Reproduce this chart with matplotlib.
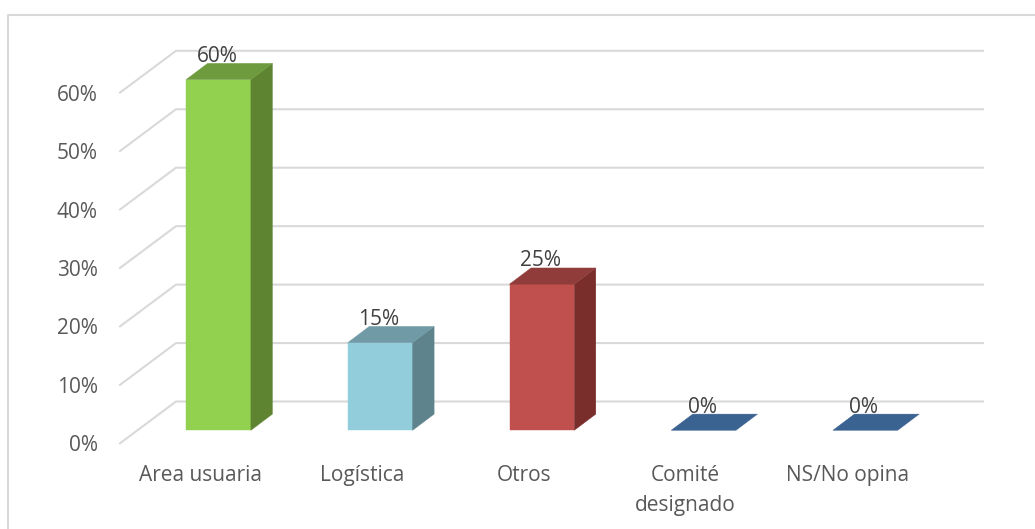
import matplotlib
matplotlib.use("Agg")
from matplotlib import pyplot as plt
from matplotlib.lines import Line2D
from matplotlib.patches import Polygon

categories = ["Area usuaria", "Logística", "Otros", "Comité\ndesignado", "NS/No opina"]
values = [60, 15, 25, 0, 0]
ticks = [0, 10, 20, 30, 40, 50, 60]
front_colors = ["#92D050", "#92CDDC", "#C0504D", "#3B6391", "#3B6391"]
top_colors = ["#6E9B3D", "#6F9AA6", "#903C3A", "#3B6391", "#3B6391"]
side_colors = ["#5E8331", "#5F838D", "#7A2E2C", "#3B6391", "#3B6391"]

W, H = 1035, 529
plt.rcParams["font.family"] = ["Open Sans", "DejaVu Sans"]

#scale of the axes in pixels, one category is about 162 px and 1% is 5.845 px
px_x = 161.7
px_y = 5.845
x0 = 218.5
y0 = 430.3

fig = plt.figure(figsize=(W / 100, H / 100), dpi=100)
ax = fig.add_axes([0, 0, 1, 1])
ax.set_xlim(-x0 / px_x, (W - x0) / px_x)
ax.set_ylim((y0 - H) / px_y, y0 / px_y)
ax.axis("off")

#chart border, only left and top reach the picture
fig.add_artist(Line2D([7.5 / W, 7.5 / W, 1], [0, 1 - 15 / H, 1 - 15 / H], color="#D9D9D9", lw=1.5))

#oblique offsets in data units
bar_w = 64.8 / px_x
depth_x = 21.5 / px_x
depth_y = 16.2 / px_y
wall_x0 = (120 - x0) / px_x
wall_x1 = (176 - x0) / px_x
wall_x2 = (983 - x0) / px_x
wall_low = (y0 - 443.3) / px_y
wall_high = (y0 - 401.5) / px_y

for t in ticks:
    ax.plot([wall_x0, wall_x1, wall_x2], [t + wall_low, t + wall_high, t + wall_high],
            color="#D9D9D9", lw=1.5, zorder=1, solid_joinstyle="miter")
    ax.text(wall_x0 - 22 / px_x, t + wall_low - 8 / px_y, f"{t}%", ha="right", va="baseline",
            fontsize=15, color="#595959")

for i, v in enumerate(values):
    left = i - bar_w / 2
    right = i + bar_w / 2
    if v > 0:
        ax.add_patch(Polygon([(left, 0), (right, 0), (right, v), (left, v)], color=front_colors[i], lw=0.3, zorder=3))
        ax.add_patch(Polygon([(right, 0), (right + depth_x, depth_y), (right + depth_x, v + depth_y), (right, v)],
                             color=side_colors[i], lw=0.3, zorder=3))
    ax.add_patch(Polygon([(left, v), (right, v), (right + depth_x, v + depth_y), (left + depth_x, v + depth_y)],
                         color=top_colors[i], lw=0.3, zorder=3))
    ax.text(i - 1.5 / px_x, v + depth_y + 1.5 / px_y, f"{v}%", ha="center", va="baseline",
            fontsize=15, color="#404040", zorder=4)

for i, label in enumerate(categories):
    ax.text(i - 18 / px_x, (y0 - 481) / px_y, label.split("\n")[0], ha="center", va="baseline",
            fontsize=15, color="#595959")
    if "\n" in label:
        ax.text(i - 18 / px_x, (y0 - 511) / px_y, label.split("\n")[1], ha="center", va="baseline",
                fontsize=15, color="#595959")

fig.savefig("out.png", dpi=100)
